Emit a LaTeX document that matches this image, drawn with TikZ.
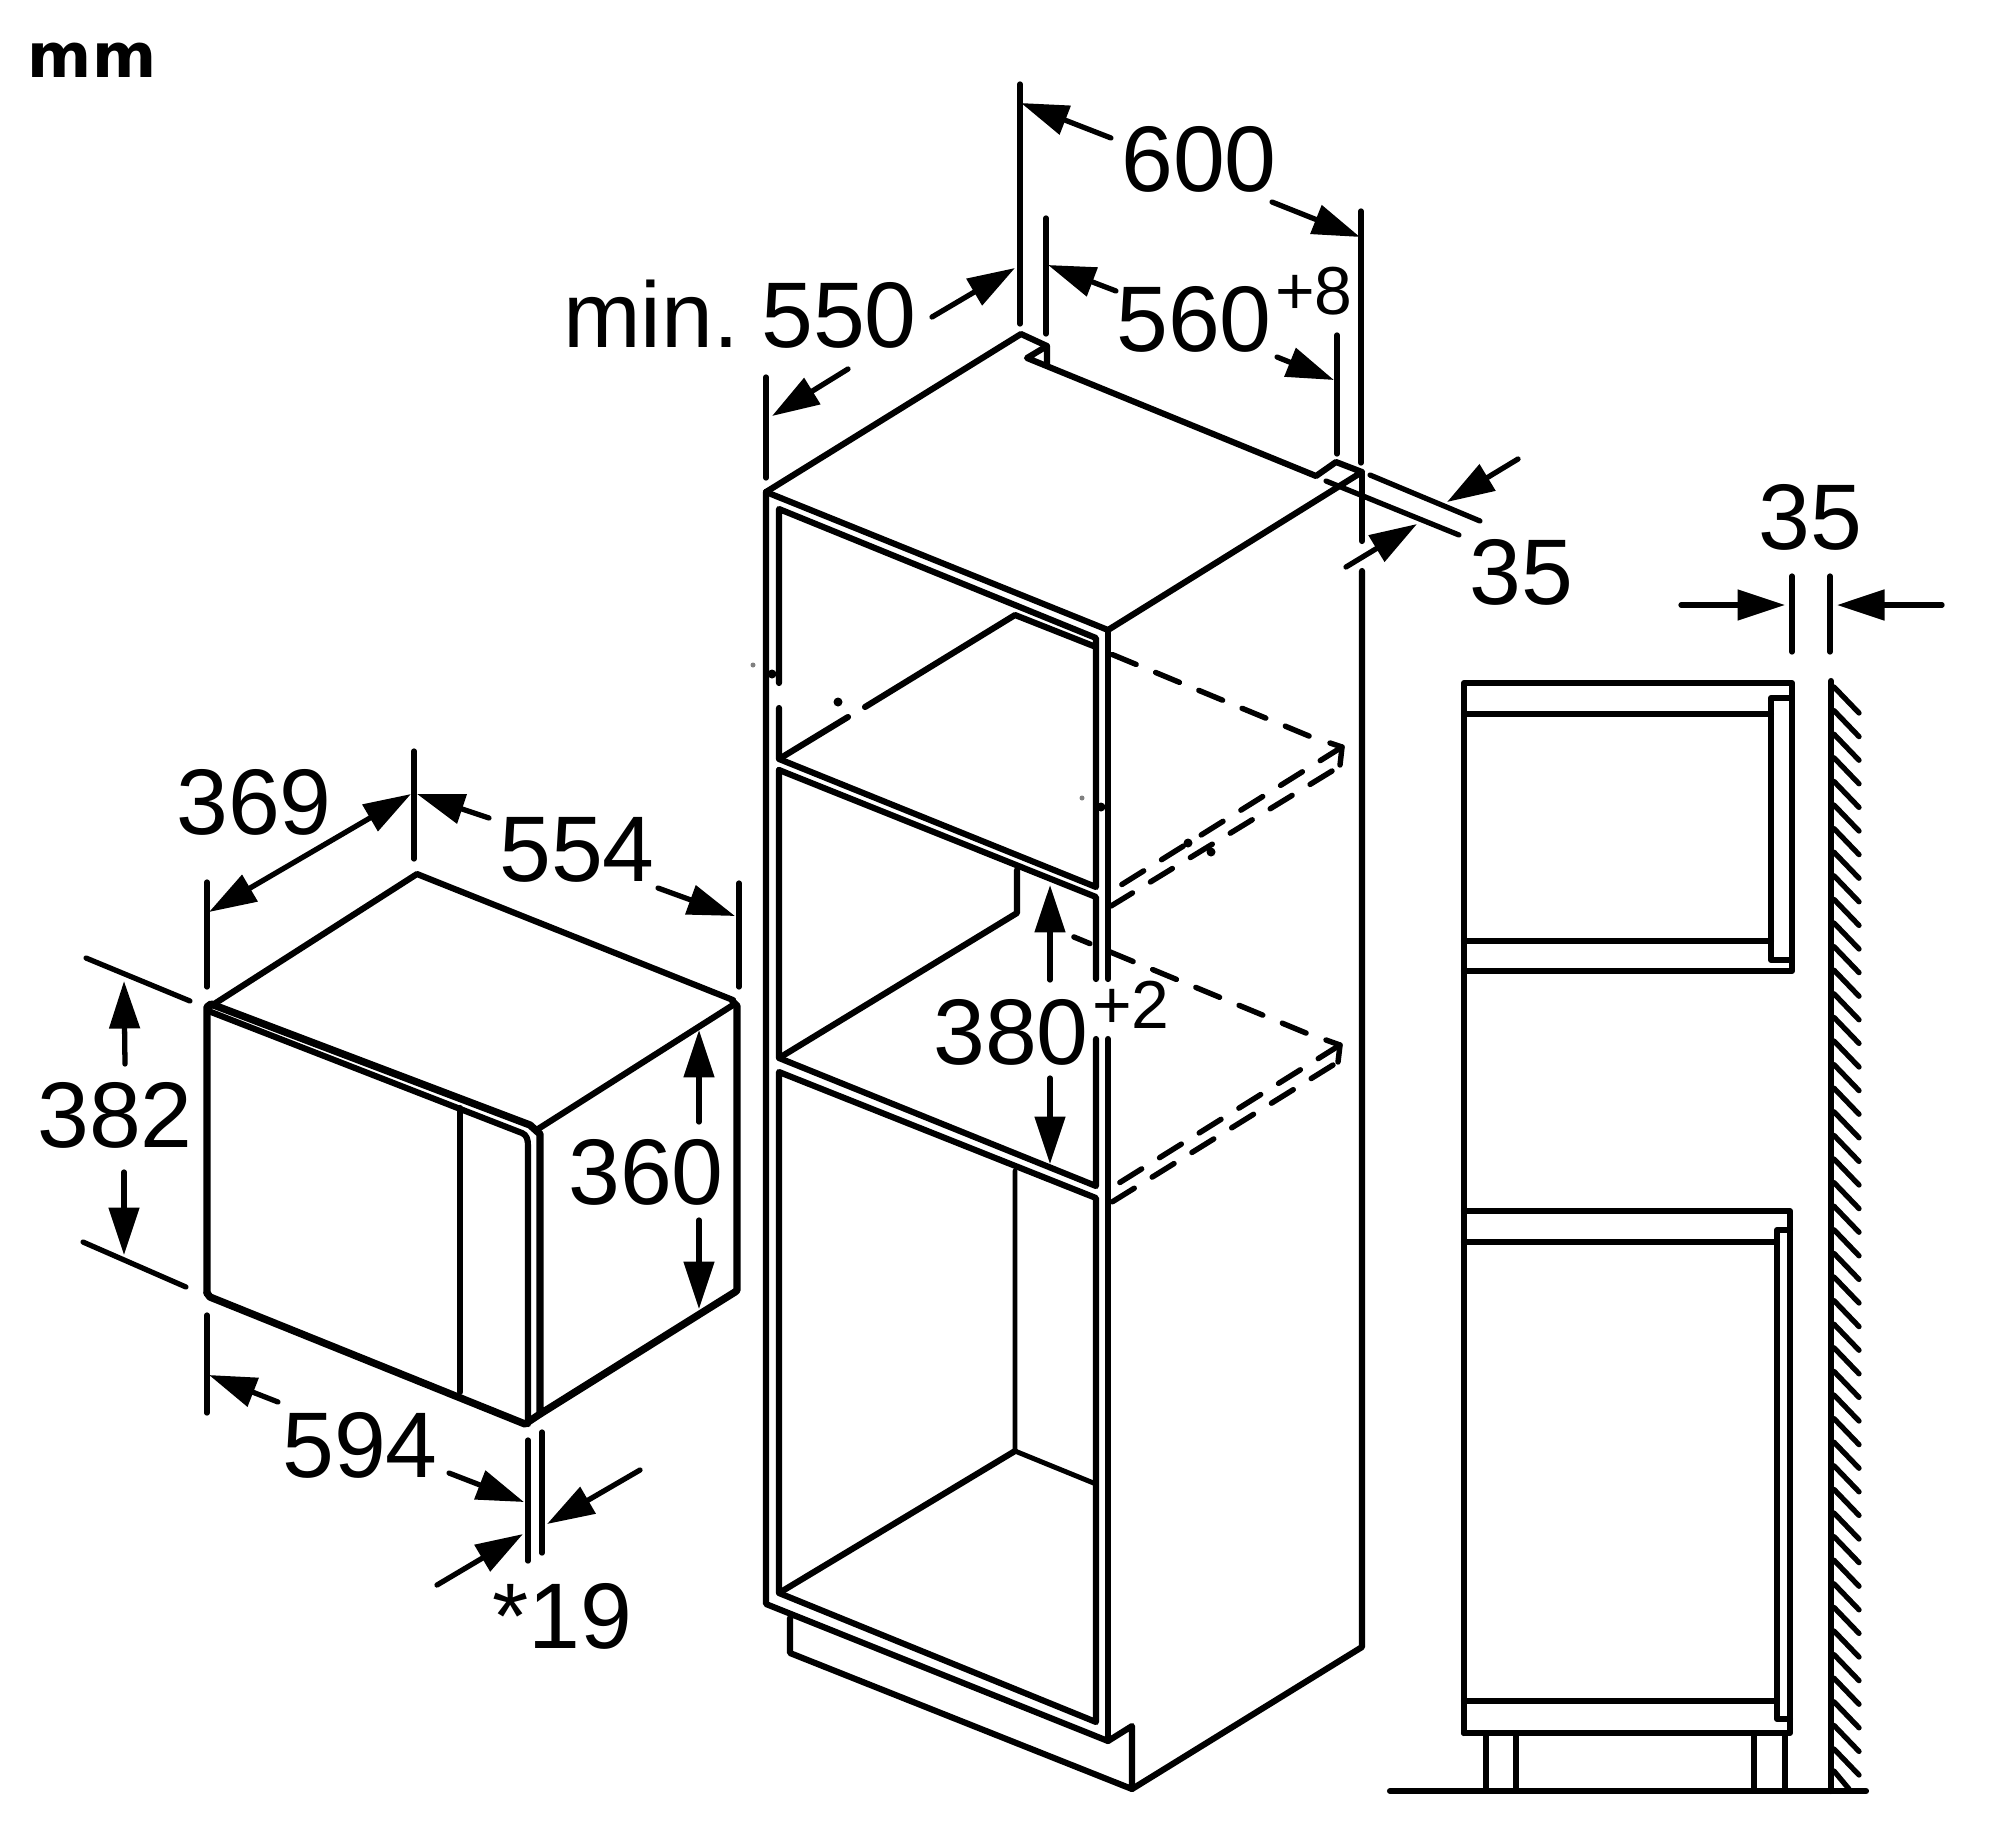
\documentclass[tikz,border=0pt]{standalone}
\usepackage{fontspec}
\setmainfont{Liberation Sans}
\newfontfamily\unitfont{DejaVu Sans}
\usetikzlibrary{arrows.meta}
\tikzset{
    dimtext/.style={inner sep=0pt,font=\fontsize{26.5}{30}\selectfont},
    suptext/.style={inner sep=0pt,font=\fontsize{19.3}{22}\selectfont},
    dimline/.style={line width=1.5pt},
    thin dash/.style={line width=1.55pt,dash pattern=on 7.3pt off 6pt},
    speck/.style={fill=black,draw=none},
}
\begin{document}
\begin{tikzpicture}[x=0.01cm,y=-0.01cm,line width=1.75pt,line cap=round,line join=round,>={Stealth[length=13.5pt,width=8.5pt,inset=0pt]}]
    \useasboundingbox (0,0) rectangle (2000,1839);
    \node[inner sep=0pt,font=\unitfont\fontsize{17.5}{20}\selectfont\bfseries] (unit) at (92,60) {mm};

    % microwave
    \draw (211,1006) -- (417,874) -- (733,1000);
    \draw (733,1005) -- (538,1129);
    \draw[line width=2.1pt] (207,1293) -- (207,1007) -- (211,1004) -- (530,1125) -- (540,1134) -- (540,1414) -- (735,1292) -- (737,1290) -- (737,1006) -- (733,1002);
    \draw (211,1012) -- (522,1133) .. controls (527,1135) and (528,1140) .. (528,1146) -- (528,1424);
    \draw[line width=2.1pt] (207,1293) -- (210,1297) -- (525,1424) -- (540,1414);
    \draw (460,1108) -- (460,1392);

    % cabinet
    \coordinate (topL) at (766,492);
    \coordinate (topF) at (1108,630);
    \coordinate (topR) at (1362,472);
    \draw (topL) -- (1021,334) -- (1047,346) -- (1047,365);
    \draw (1047,346) -- (1027,358) -- (1316,476) -- (1336,462) -- (topR) -- (topF) -- (topL);
    \draw (topL) -- (766,1604) -- (1108,1741) -- (1132,1726) -- (1132,1789) -- (790,1653) -- (790,1618);
    \draw (1132,1789) -- (1362,1647) -- (1362,571);
    \draw (topR) -- (1362,541);
    \draw (topF) -- (1108,979);
    \draw (1108,1039) -- (1108,1741);
    \draw (779,683) -- (779,509) -- (1096,638) -- (1096,887) -- (779,759) -- (779,708);
    \draw (779,759) -- (848,717);
    \draw (865,707) -- (1015,615) -- (1096,647);
    \draw (779,770) -- (779,1058) -- (1096,1186) -- (1096,1039);
    \draw (779,770) -- (1096,897) -- (1096,979);
    \draw (1017,870) -- (1017,913) -- (779,1058);
    \draw (779,1072) -- (1096,1198) -- (1096,1722) -- (779,1593) -- cycle;
    \draw[line width=1.4pt] (1015,1171) -- (1015,1451) -- (1096,1484);
    \draw (1015,1451) -- (779,1593);

    % dashed outline of the units behind
    \draw[thin dash] (1309,736) -- (1111,654);
    \draw[thin dash] (1342,747) -- (1121,885);
    \draw[thin dash] (1332,771) -- (1111,906);
    \draw[line width=1.55pt] (1330,743) -- (1342,747) -- (1340,765);
    \draw[thin dash] (1306,1033) -- (1074,937);
    \draw[thin dash] (1340,1045) -- (1119,1183);
    \draw[thin dash] (1333,1065) -- (1112,1202);
    \draw[line width=1.55pt] (1326,1040) -- (1340,1045) -- (1338,1062);

    % side view
    \draw (1464,1733) -- (1464,683) -- (1792,683) -- (1792,971) -- (1464,971);
    \draw (1464,714) -- (1771,714);
    \draw (1464,941) -- (1771,941);
    \draw (1790,698) -- (1771,698) -- (1771,960) -- (1790,960);
    \draw (1464,1211) -- (1790,1211) -- (1790,1733) -- (1464,1733);
    \draw (1464,1242) -- (1777,1242);
    \draw (1464,1701) -- (1777,1701);
    \draw (1790,1230) -- (1777,1230) -- (1777,1719) -- (1790,1719);
    \foreach \x in {1486,1516,1754,1785}
        \draw[line width=1.5pt] (\x,1733) -- (\x,1790);
    \draw (1390,1791) -- (1866,1791);
    \draw (1831,681) -- (1831,1791);
    \foreach \i in {0,...,45}
        \draw[line width=1.5pt] (1834,687+23.6*\i) -- (1859,713+23.6*\i);
    \draw[line width=1.5pt] (1834,1771) -- (1849,1789);

    % extension lines
    \foreach \xa/\ya/\xb/\yb in {207/882/207/987,414/751/414/859,739/883/739/987,86/958/190/1001,83/1242/186/1287,207/1315/207/1413,528/1440/528/1561,542/1432/542/1553,1020/84/1020/324,1046/218/1046/334,1361/211/1361/463,1337/335/1337/454,766/377/766/478,1370/475/1480/521,1326/481/1459/535,1792/576/1792/652,1830/576/1830/652}
        \draw[dimline] (\xa,\ya) -- (\xb,\yb);

    % arrows
    \draw[dimline,<->] (209,912) -- (411,794);
    \foreach \xa/\ya/\xb/\yb in {489/818/417/794,658/888/735/916,125/1064/124/981,124/1172/124/1255,699/1122/699/1030,699/1220/699/1309,278/1402/209/1375,449/1473/524/1502,640/1470/547/1524,437/1585/523/1534,1111/138/1021/103,1272/202/1360/237,1116/291/1048/265,1277/357/1334/380,932/317/1015/268,848/369/772/416,1518/459/1447/502,1346/567/1417/524,1050/980/1050/885,1050/1078/1050/1164,1681/605/1785/605,1942/605/1837/605}
        \draw[dimline,->] (\xa,\ya) -- (\xb,\yb);

    % specks
    \foreach \x/\y in {772/674,838/702,1101/807,1188/843,1211/852}
        \fill[speck] (\x,\y) circle (4.5);
    \foreach \x/\y in {753/665,1082/798}
        \fill[gray] (\x,\y) circle (2.5);

    % labels
    \node[dimtext] (d369) at (254,802) {369};
    \node[dimtext] (d554) at (577,850) {554};
    \node[dimtext] (d382) at (115,1115) {382};
    \node[dimtext] (d360) at (646,1172) {360};
    \node[dimtext] (d594) at (360,1445) {594};
    \node[dimtext] (d19) at (562,1616) {*19};
    \node[dimtext] (d600) at (1199,159) {600};
    \node[dimtext] (d560) at (1194,319) {560};
    \node[suptext] (d560sup) at (1314,291) {+8};
    \node[dimtext] (d550) at (740,314) {min.\kern-1.1pt\ 550};
    \node[dimtext] (d35a) at (1521,572) {35};
    \node[dimtext] (d35b) at (1810,517) {35};
    \node[dimtext] (d380) at (1011,1032) {380};
    \node[suptext] (d380sup) at (1131,1005) {+2};
\end{tikzpicture}
\end{document}
